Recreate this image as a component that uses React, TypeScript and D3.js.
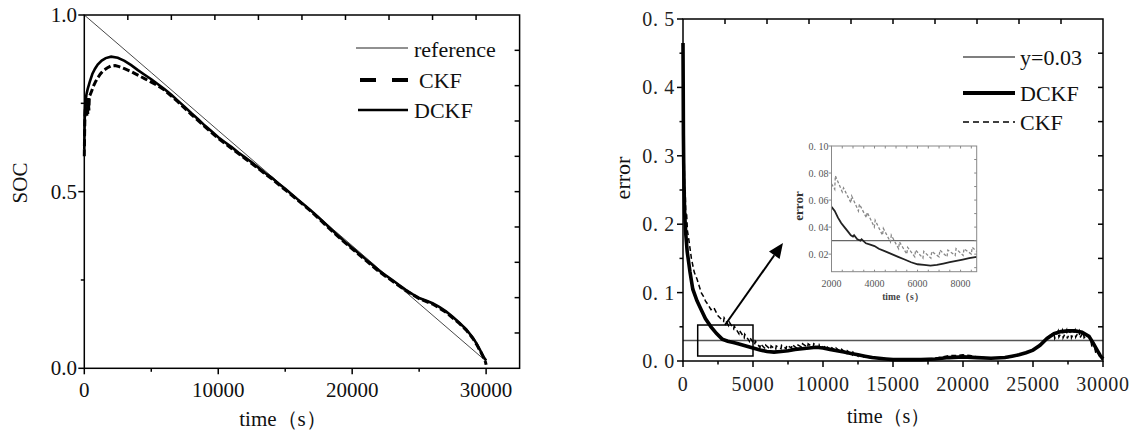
import React from 'react';
import * as d3 from 'd3';

// ---------------- DATA ----------------
// Left chart: SOC vs time
const socReference: [number, number][] = [
  [0, 1.0], [5000, 0.837], [10000, 0.673], [15000, 0.51], [20000, 0.347], [25000, 0.183], [30000, 0.02],
];
const socDCKF: [number, number][] = [
  [0, 0.62], [20, 0.68], [40, 0.72], [70, 0.745], [110, 0.76], [160, 0.775], [250, 0.79], [400, 0.81],
  [600, 0.833], [800, 0.848], [1000, 0.86], [1300, 0.871], [1600, 0.878], [2000, 0.882], [2500, 0.879],
  [3000, 0.87], [3500, 0.858], [4000, 0.844], [4500, 0.831], [5000, 0.818], [5500, 0.804], [6000, 0.79],
  [6500, 0.774], [7000, 0.757], [7500, 0.74], [8000, 0.722], [8500, 0.705], [9000, 0.687], [9500, 0.671],
  [10000, 0.654], [10500, 0.64], [11000, 0.626], [11500, 0.611], [12000, 0.597], [12500, 0.583],
  [13000, 0.568], [13500, 0.553], [14000, 0.539], [14500, 0.523], [15000, 0.508], [15500, 0.492],
  [16000, 0.476], [16500, 0.46], [17000, 0.444], [17500, 0.427], [18000, 0.409], [18500, 0.391],
  [19000, 0.374], [19500, 0.357], [20000, 0.341], [20500, 0.325], [21000, 0.309], [21500, 0.293],
  [22000, 0.277], [22500, 0.263], [23000, 0.25], [23500, 0.236], [24000, 0.222], [24500, 0.21],
  [25000, 0.199], [25500, 0.192], [26000, 0.184], [26500, 0.174], [27000, 0.161], [27500, 0.146],
  [28000, 0.129], [28500, 0.111], [29000, 0.087], [29300, 0.069], [29600, 0.048], [29800, 0.033], [30000, 0.022],
];
const socCKF: [number, number][] = [
  [0, 0.6], [20, 0.66], [40, 0.7], [70, 0.73], [100, 0.745], [130, 0.72], [160, 0.755], [190, 0.715],
  [220, 0.76], [260, 0.72], [300, 0.765], [340, 0.73], [380, 0.77], [450, 0.775], [550, 0.785], [700, 0.8],
  [850, 0.812], [1000, 0.822], [1200, 0.833], [1400, 0.842], [1700, 0.85], [2000, 0.856], [2300, 0.857],
  [2600, 0.854], [3000, 0.848], [3500, 0.84], [4000, 0.83], [4500, 0.82], [5000, 0.81], [5500, 0.8],
  [6000, 0.787], [7000, 0.754], [8000, 0.718], [9000, 0.684], [10000, 0.651], [11000, 0.622],
  [12000, 0.594], [13000, 0.565], [14000, 0.536], [15000, 0.505], [16000, 0.474], [17000, 0.442],
  [18000, 0.406], [19000, 0.371], [20000, 0.338], [21000, 0.306], [22000, 0.274], [23000, 0.247],
  [24000, 0.22], [25000, 0.197], [26000, 0.182], [27000, 0.159], [28000, 0.127], [28500, 0.109],
  [29000, 0.085], [29300, 0.067], [29600, 0.046], [29800, 0.031], [29950, 0.018], [30000, 0.01],
];

// Right chart: error vs time
const errDCKF: [number, number][] = [
  [0, 0.465], [15, 0.4], [30, 0.33], [50, 0.29], [80, 0.25], [120, 0.215], [200, 0.185], [300, 0.16],
  [400, 0.145], [500, 0.13], [700, 0.105], [1000, 0.088], [1300, 0.075], [1600, 0.062], [2000, 0.05],
  [2400, 0.04], [2800, 0.032], [3200, 0.029], [3600, 0.027], [4000, 0.025], [4500, 0.022], [5000, 0.019],
  [5500, 0.016], [6000, 0.014], [6500, 0.013], [7000, 0.014], [7500, 0.015], [8000, 0.017], [8500, 0.018],
  [9000, 0.019], [9500, 0.02], [10000, 0.019], [10500, 0.017], [11000, 0.015], [11500, 0.013],
  [12000, 0.011], [12500, 0.009], [13000, 0.007], [13500, 0.005], [14000, 0.004], [14500, 0.003],
  [15000, 0.002], [16000, 0.002], [17000, 0.002], [18000, 0.003], [19000, 0.005], [20000, 0.006],
  [21000, 0.005], [22000, 0.004], [23000, 0.005], [23500, 0.007], [24000, 0.009], [24500, 0.012],
  [25000, 0.016], [25500, 0.023], [26000, 0.033], [26500, 0.04], [27000, 0.043], [27500, 0.044],
  [28000, 0.044], [28500, 0.042], [29000, 0.036], [29300, 0.026], [29600, 0.015], [29800, 0.008], [30000, 0.003],
];
const errCKF: [number, number][] = [
  [0, 0.35], [20, 0.31], [40, 0.33], [60, 0.27], [90, 0.29], [120, 0.24], [160, 0.25], [200, 0.21],
  [260, 0.215], [320, 0.19], [400, 0.18], [500, 0.165], [600, 0.15], [700, 0.14], [800, 0.13], [900, 0.125],
  [1000, 0.12], [1150, 0.11], [1300, 0.1], [1450, 0.095], [1600, 0.088], [1800, 0.082], [2000, 0.075],
  [2200, 0.078], [2500, 0.066], [2900, 0.058], [2940, 0.063], [3250, 0.052], [3300, 0.057], [3620, 0.047],
  [3660, 0.051], [3990, 0.04], [4030, 0.045], [4370, 0.034], [4410, 0.039], [4740, 0.029], [4780, 0.034],
  [5120, 0.024], [5160, 0.029], [5500, 0.02], [5540, 0.025], [5870, 0.018], [5910, 0.023], [6250, 0.017],
  [6290, 0.022], [6620, 0.017], [6660, 0.022], [7000, 0.018], [7040, 0.023], [7370, 0.018], [7410, 0.023],
  [7750, 0.019], [7790, 0.024], [8120, 0.019], [8160, 0.024], [8500, 0.02], [8540, 0.025], [8900, 0.02],
  [8940, 0.025], [9300, 0.02], [9340, 0.025], [9700, 0.02], [9740, 0.024], [10100, 0.019], [10140, 0.023],
  [10500, 0.017], [10540, 0.021], [10900, 0.015], [10940, 0.019], [11300, 0.013], [11340, 0.017],
  [11700, 0.011], [11740, 0.015], [12100, 0.009], [12140, 0.013], [12500, 0.007], [12540, 0.011],
  [12900, 0.006], [12940, 0.009], [13300, 0.005], [13340, 0.008], [13800, 0.004], [14300, 0.003],
  [15000, 0.002], [16000, 0.002], [17000, 0.003], [18000, 0.004], [18500, 0.006], [19000, 0.008],
  [19500, 0.008], [20000, 0.009], [20500, 0.008], [21000, 0.006], [22000, 0.004], [23000, 0.005],
  [23500, 0.006], [24000, 0.009], [24500, 0.012], [25000, 0.016], [25400, 0.022], [25800, 0.03],
  [26200, 0.037], [26500, 0.041], [26550, 0.033], [26800, 0.044], [26850, 0.035], [27100, 0.045],
  [27150, 0.034], [27400, 0.045], [27450, 0.033], [27700, 0.045], [27750, 0.034], [28000, 0.045],
  [28050, 0.035], [28300, 0.044], [28350, 0.034], [28600, 0.042], [28650, 0.034], [28900, 0.038],
  [29100, 0.033], [29200, 0.022], [29400, 0.02], [29500, 0.01], [29700, 0.012], [29800, 0.004], [30000, 0.002],
];
const threshold = 0.03;

// Inset (zoom of 2000–8750 s)
const insetDCKF: [number, number][] = [
  [2000, 0.055], [2150, 0.052], [2300, 0.047], [2450, 0.043], [2600, 0.04], [2750, 0.037], [2900, 0.034],
  [3000, 0.033], [3050, 0.034], [3200, 0.031], [3350, 0.03], [3400, 0.031], [3600, 0.028], [3800, 0.027],
  [4000, 0.026], [4200, 0.024], [4500, 0.022], [4800, 0.02], [5100, 0.018], [5400, 0.016], [5700, 0.014],
  [6000, 0.0125], [6300, 0.012], [6600, 0.0115], [6900, 0.012], [7200, 0.013], [7500, 0.014], [7800, 0.015],
  [8100, 0.016], [8400, 0.017], [8750, 0.018],
];
const insetCKF: [number, number][] = [
  [2000, 0.072], [2150, 0.068], [2180, 0.078], [2500, 0.066], [2560, 0.069], [2900, 0.058], [2940, 0.063],
  [3250, 0.052], [3300, 0.057], [3620, 0.047], [3660, 0.051], [3990, 0.04], [4030, 0.045], [4370, 0.034],
  [4410, 0.039], [4740, 0.029], [4780, 0.034], [5120, 0.024], [5160, 0.029], [5500, 0.02], [5540, 0.025],
  [5870, 0.018], [5910, 0.023], [6250, 0.017], [6290, 0.022], [6620, 0.017], [6660, 0.022], [7000, 0.018],
  [7040, 0.023], [7370, 0.018], [7410, 0.023], [7750, 0.019], [7790, 0.024], [8120, 0.019], [8160, 0.024],
  [8500, 0.02], [8540, 0.025], [8750, 0.022],
];

// Tick values / labels
const socXTicks = [0, 10000, 20000, 30000];
const socXMinor = [5000, 15000, 25000];
const socYTicks = [0, 0.5, 1.0];
const socYLabels = ['0.0', '0.5', '1.0'];
const socYMinor = [0.25, 0.75];
const errXTicks = [0, 5000, 10000, 15000, 20000, 25000, 30000];
const errXMinor = [2500, 7500, 12500, 17500, 22500, 27500];
const errYTicks = [0, 0.1, 0.2, 0.3, 0.4, 0.5];
const errYLabels = ['0. 0', '0. 1', '0. 2', '0. 3', '0. 4', '0. 5'];
const errYMinor = [0.05, 0.15, 0.25, 0.35, 0.45];
const insetXTicks = [2000, 4000, 6000, 8000];
const insetYTicks = [0.02, 0.04, 0.06, 0.08, 0.1];
const insetYLabels = ['0. 02', '0. 04', '0. 06', '0. 08', '0. 10'];

// Annotation (data units of the error chart)
const zoomBox = { x0: 1050, x1: 5000, y0: 0.0073, y1: 0.0526 };
const arrowFrom: [number, number] = [3000, 0.0526];
const arrowTo: [number, number] = [7140, 0.1725];

const FONT = "Liberation Serif, Times New Roman, DejaVu Serif, serif";

// ---------------- SCALES ----------------
const lx = d3.scaleLinear().domain([0, 32500]).range([84.3, 519.6]);
const ly = d3.scaleLinear().domain([0, 1]).range([368.3, 15]);
const rx = d3.scaleLinear().domain([0, 30000]).range([683, 1103]);
const ry = d3.scaleLinear().domain([0, 0.5]).range([361, 19]);
const ix = d3.scaleLinear().domain([2000, 8750]).range([831.5, 976.7]);
const iy = d3.scaleLinear().domain([0.007, 0.1]).range([271.7, 146]);

function path(data: [number, number][], sx: any, sy: any) {
  return d3.line<[number, number]>().x(d => sx(d[0])).y(d => sy(d[1]))(data) || '';
}

function Frame({ sx, sy, divs = 10 }: any) {
  const [x0, x1] = sx.range();
  const [y0, y1] = sy.range(); // y0 bottom, y1 top
  const top = d3.range(1, divs).map(i => x0 + (i * (x1 - x0)) / divs);
  const right = d3.range(1, divs).map(i => y0 + (i * (y1 - y0)) / divs);
  return (
    <g stroke="#000" strokeWidth={1.5}>
      <rect x={x0} y={y1} width={x1 - x0} height={y0 - y1} fill="none" />
      {top.map((x, i) => <line key={'t' + i} x1={x} x2={x} y1={y1} y2={y1 + 5} />)}
      {right.map((y, i) => <line key={'r' + i} x1={x1} x2={x1 - 5} y1={y} y2={y} />)}
    </g>
  );
}

export default function App() {
  const [lx0] = lx.range();
  const [ly0] = ly.range();
  const [rx0] = rx.range();
  const [ry0] = ry.range();
  const ib = iy.range()[0], it = iy.range()[1];
  const il = ix.range()[0], ir = ix.range()[1];

  // arrow head
  const ax = rx(arrowTo[0]), ay = ry(arrowTo[1]);
  const bx = rx(arrowFrom[0]), by = ry(arrowFrom[1]);
  const ang = Math.atan2(ay - by, ax - bx);
  const hl = 15, hw = 6.5;
  const hx = ax - hl * Math.cos(ang), hy = ay - hl * Math.sin(ang);
  const head = `M${ax},${ay} L${hx + hw * Math.sin(ang)},${hy - hw * Math.cos(ang)} L${hx - hw * Math.sin(ang)},${hy + hw * Math.cos(ang)} Z`;

  return (
    <svg width={1137} height={432} style={{ position: 'absolute', left: 0, top: 0, background: '#fff', fontFamily: FONT }}>
      {/* ============ LEFT CHART ============ */}
      <path d={path(socReference, lx, ly)} fill="none" stroke="#333" strokeWidth={0.9} />
      <path d={path(socCKF, lx, ly)} fill="none" stroke="#000" strokeWidth={3} strokeDasharray="7,3" />
      <path d={path(socDCKF, lx, ly)} fill="none" stroke="#000" strokeWidth={2.6} />
      <Frame sx={lx} sy={ly} />
      <g stroke="#000" strokeWidth={1.5}>
        {socXTicks.map(v => <line key={v} x1={lx(v)} x2={lx(v)} y1={ly0} y2={ly0 + 6} />)}
        {socXMinor.map(v => <line key={v} x1={lx(v)} x2={lx(v)} y1={ly0} y2={ly0 + 3.5} />)}
        {socYTicks.map(v => <line key={v} x1={lx0} x2={lx0 - 6} y1={ly(v)} y2={ly(v)} />)}
        {socYMinor.map(v => <line key={v} x1={lx0} x2={lx0 - 3.5} y1={ly(v)} y2={ly(v)} />)}
      </g>
      <g style={{ fontFamily: FONT, fontSize: 21 }} fill="#111">
        {socXTicks.map(v => <text key={v} x={lx(v)} y={397} textAnchor="middle">{v}</text>)}
        {socYTicks.map((v, i) => <text key={v} x={77} y={ly(v)} textAnchor="end" dominantBaseline="central">{socYLabels[i]}</text>)}
        <text x={283} y={426} textAnchor="middle">time（s）</text>
        <text transform="translate(27,183) rotate(-90)" textAnchor="middle">SOC</text>
      </g>
      {/* legend left */}
      <g>
        <line x1={356} x2={408} y1={48} y2={48} stroke="#222" strokeWidth={1} />
        <line x1={360} x2={408} y1={80} y2={80} stroke="#000" strokeWidth={4} strokeDasharray="16,16" />
        <line x1={358} x2={408} y1={110} y2={110} stroke="#000" strokeWidth={2.6} />
        <g style={{ fontFamily: FONT, fontSize: 22 }} fill="#111">
          <text x={414} y={49} dominantBaseline="central">reference</text>
          <text x={419} y={80} dominantBaseline="central">CKF</text>
          <text x={414} y={110} dominantBaseline="central">DCKF</text>
        </g>
      </g>

      {/* ============ RIGHT CHART ============ */}
      <line x1={rx(0)} x2={rx(30000)} y1={ry(threshold)} y2={ry(threshold)} stroke="#555" strokeWidth={1.4} />
      <path d={path(errCKF, rx, ry)} fill="none" stroke="#000" strokeWidth={1.5} strokeDasharray="5,3" />
      <path d={path(errDCKF, rx, ry)} fill="none" stroke="#000" strokeWidth={3.6} />
      <Frame sx={rx} sy={ry} />
      <g stroke="#000" strokeWidth={1.5}>
        {errXTicks.map(v => <line key={v} x1={rx(v)} x2={rx(v)} y1={ry0} y2={ry0 + 6} />)}
        {errXMinor.map(v => <line key={v} x1={rx(v)} x2={rx(v)} y1={ry0} y2={ry0 + 3.5} />)}
        {errYTicks.map(v => <line key={v} x1={rx0} x2={rx0 - 6} y1={ry(v)} y2={ry(v)} />)}
        {errYMinor.map(v => <line key={v} x1={rx0} x2={rx0 - 3.5} y1={ry(v)} y2={ry(v)} />)}
      </g>
      <g style={{ fontFamily: FONT, fontSize: 20, letterSpacing: 0.7 }} fill="#222">
        {errXTicks.map(v => <text key={v} x={rx(v)} y={391} textAnchor="middle">{v}</text>)}
        {errYTicks.map((v, i) => <text key={v} x={675} y={ry(v)} textAnchor="end" dominantBaseline="central">{errYLabels[i]}</text>)}
      </g>
      <g style={{ fontFamily: FONT, fontSize: 20 }} fill="#111">
        <text x={847} y={423}>time（s）</text>
        <text transform="translate(630,178) rotate(-90)" textAnchor="middle" style={{ fontSize: 22 }}>error</text>
      </g>
      {/* zoom box + arrow */}
      <rect x={rx(zoomBox.x0)} y={ry(zoomBox.y1)} width={rx(zoomBox.x1) - rx(zoomBox.x0)} height={ry(zoomBox.y0) - ry(zoomBox.y1)} fill="none" stroke="#000" strokeWidth={1.5} />
      <line x1={bx} y1={by} x2={hx} y2={hy} stroke="#000" strokeWidth={2} />
      <path d={head} fill="#000" />
      {/* legend right */}
      <line x1={963} x2={1015} y1={57} y2={57} stroke="#555" strokeWidth={1.3} />
      <line x1={963} x2={1015} y1={93} y2={93} stroke="#000" strokeWidth={4} />
      <line x1={963} x2={1015} y1={122} y2={122} stroke="#000" strokeWidth={1.5} strokeDasharray="6,4" />
      <g style={{ fontFamily: FONT, fontSize: 22 }} fill="#111">
        <text x={1020} y={57} dominantBaseline="central">y=0.03</text>
        <text x={1020} y={93} dominantBaseline="central">DCKF</text>
        <text x={1020} y={122} dominantBaseline="central">CKF</text>
      </g>

      {/* ============ INSET ============ */}
      <line x1={il} x2={ir} y1={iy(threshold)} y2={iy(threshold)} stroke="#666" strokeWidth={1.2} />
      <path d={path(insetCKF, ix, iy)} fill="none" stroke="#888" strokeWidth={1.3} strokeDasharray="3,2" />
      <path d={path(insetDCKF, ix, iy)} fill="none" stroke="#222" strokeWidth={1.8} />
      <g stroke="#888" strokeWidth={1}>
        <rect x={il} y={it} width={ir - il} height={ib - it} fill="none" />
        {d3.range(2500, 8750, 500).map(v => <line key={'it' + v} x1={ix(v)} x2={ix(v)} y1={it} y2={it + 2.5} />)}
        {d3.range(2500, 8750, 500).map(v => <line key={'ib' + v} x1={ix(v)} x2={ix(v)} y1={ib} y2={ib - 2} />)}
        {d3.range(0.01, 0.1, 0.01).map(v => <line key={'ir' + v} x1={ir} x2={ir - 2.5} y1={iy(v)} y2={iy(v)} />)}
        {insetYTicks.map(v => <line key={'il' + v} x1={il} x2={il - 3} y1={iy(v)} y2={iy(v)} />)}
      </g>
      <g style={{ fontFamily: FONT, fontSize: 10 }} fill="#555">
        {insetXTicks.map(v => <text key={v} x={ix(v)} y={286.7} textAnchor="middle">{v}</text>)}
        {insetYTicks.map((v, i) => <text key={v} x={828.5} y={iy(v)} textAnchor="end" dominantBaseline="central">{insetYLabels[i]}</text>)}
      </g>
      <text transform="translate(803,206) rotate(-90)" textAnchor="middle" style={{ fontFamily: FONT, fontSize: 13, fontWeight: 'bold' }} fill="#333">error</text>
      <text x={903} y={300} textAnchor="middle" style={{ fontFamily: FONT, fontSize: 9.5, fontWeight: 'bold' }} fill="#444">time（s）</text>
    </svg>
  );
}
